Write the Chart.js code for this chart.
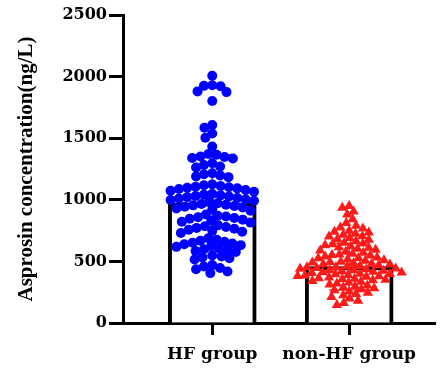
<!DOCTYPE html>
<html>
<head>
<meta charset="utf-8">
<script src="https://cdn.jsdelivr.net/npm/chart.js@4.4.1/dist/chart.umd.min.js"></script>
<style>
  body { margin: 0; background: #fff; }
  #wrap { width: 441px; height: 369px; }
</style>
</head>
<body>
<div id="wrap"><canvas id="chart" width="441" height="369"></canvas></div>
<script>
// groups and summary values
const categories = ["HF group", "non-HF group"]
const means = [975, 457]
const sds = [390, 190]

const hfValues = [
    2007, 1930, 1925, 1921, 1880, 1874, 1802,
    1607, 1585, 1538, 1503, 1432,
    1372, 1365, 1352, 1348, 1340, 1335,
    1296, 1283, 1270, 1262,
    1215, 1208, 1198, 1190, 1184,
    1125, 1118, 1112, 1106, 1102, 1098, 1093, 1087, 1080, 1074, 1066,
    1048, 1042, 1036, 1031, 1027, 1022, 1015, 1010, 1004, 998, 992, 985,
    972, 966, 960, 955, 950, 944, 938, 930, 921, 912,
    880, 871, 864, 858, 852, 846, 839, 830, 822, 815,
    794, 786, 779, 772, 765, 757, 748, 740, 731,
    688, 676, 668, 660, 652, 645, 639, 632, 626, 618,
    604, 598, 590, 584, 577,
    548, 540, 532, 525, 515,
    470, 458, 447, 436,
    418, 405
]
const nonHfValues = [
    950, 936, 905, 880, 842, 812, 790, 776, 768,
    748, 741, 735, 724, 716, 705, 702, 690, 681, 676, 664,
    652, 645, 640, 631, 622, 615, 610, 603, 594, 588, 579, 570,
    562, 555, 551, 548, 540, 532, 528, 525, 518, 510, 505,
    498, 495, 492, 486, 480, 477, 474, 468, 462, 458, 455, 452,
    447, 442, 440, 436, 430, 428, 425, 420, 415, 412, 410, 405,
    400, 398, 396, 390, 385, 382, 380, 375, 370, 364, 360, 358,
    352, 346, 340, 334, 328, 320, 312, 305, 298, 290, 282,
    274, 265, 256, 246, 236, 225, 212, 198, 180, 162, 146
]

// simple beeswarm: push each dot sideways until it stops overlapping
const PX_PER_Y = 308 / 2500
const PX_PER_X = 139.5
function swarm(values, minDist) {
    const placed = []
    return values.map((v) => {
        const py = v * PX_PER_Y
        let off = 0
        for (let k = 0; k < 400; k++) {
            const cand = (k % 2 === 0 ? 1 : -1) * Math.ceil(k / 2) * 0.5
            const ok = placed.every((p) => {
                const dx = p.x - cand
                const dy = p.y - py
                return dx * dx + dy * dy >= minDist * minDist
            })
            if (ok) { off = cand; break }
        }
        placed.push({ x: off, y: py })
        return off / PX_PER_X
    })
}
const hfOffsets = swarm(hfValues, 8.2)
const nonHfOffsets = swarm(nonHfValues, 7.1)

const errorBars = {
    id: "errorBars",
    afterDatasetDraw(chart, args) {
        if (args.index !== 0) return
        const { ctx, scales } = chart
        ctx.save()
        ctx.lineWidth = 1.5
        means.forEach((m, i) => {
            const px = scales.x.getPixelForValue(i)
            const top = scales.y.getPixelForValue(m + sds[i])
            const bot = scales.y.getPixelForValue(m - sds[i])
            ctx.strokeStyle = i === 0 ? "#3a3ad8" : "#d83a3a"
            ctx.beginPath()
            ctx.moveTo(px, top); ctx.lineTo(px, bot)
            ctx.moveTo(px - 20, top); ctx.lineTo(px + 20, top)
            ctx.moveTo(px - 20, bot); ctx.lineTo(px + 20, bot)
            ctx.stroke()
        })
        ctx.restore()
    }
}

new Chart(document.getElementById("chart"), {
    type: "bar",
    data: {
        datasets: [
            {
                label: "mean",
                data: means.map((m, i) => ({ x: i, y: m })),
                backgroundColor: "#ffffff",
                borderColor: "#000000",
                borderWidth: 4,
                barThickness: 88,
                order: 3,
            },
            {
                type: "scatter",
                label: categories[0],
                data: hfValues.map((v, i) => ({ x: hfOffsets[i], y: v })),
                backgroundColor: "#0000ff",
                borderWidth: 0,
                pointStyle: "circle",
                pointRadius: 5,
                order: 2,
            },
            {
                type: "scatter",
                label: categories[1],
                data: nonHfValues.map((v, i) => ({ x: 1 + nonHfOffsets[i], y: v })),
                backgroundColor: "#ff1a1a",
                borderWidth: 0,
                pointStyle: "triangle",
                pointRadius: 6,
                order: 1,
            },
        ],
    },
    options: {
        responsive: false,
        animation: false,
        devicePixelRatio: 1,
        layout: { padding: { top: 15, right: 0, left: 0, bottom: 0 } },
        plugins: { legend: { display: false }, tooltip: { enabled: false } },
        scales: {
            x: {
                type: "linear",
                offset: false,
                min: -0.652,
                max: 1.627,
                afterBuildTicks: (scale) => { scale.ticks = [{ value: 0 }, { value: 1 }] },
                afterFit: (scale) => { scale.height = 46 },
                ticks: {
                    callback: (v) => categories[v],
                    color: "#000",
                    font: { family: "DejaVu Serif", weight: "bold", size: 17 },
                    padding: 9,
                    maxRotation: 0,
                    autoSkip: false,
                },
                grid: { offset: false, drawOnChartArea: false, color: "#000", tickLength: 12, tickWidth: 3 },
                border: { color: "#000", width: 3 },
            },
            y: {
                min: 0,
                max: 2500,
                afterFit: (scale) => { scale.width = 123 },
                ticks: {
                    stepSize: 500,
                    callback: (v) => String(v),
                    color: "#000",
                    font: { family: "DejaVu Serif", weight: "bold", size: 16 },
                    padding: 2,
                },
                grid: { drawOnChartArea: false, color: "#000", tickLength: 14, tickWidth: 3 },
                border: { color: "#000", width: 3 },
                title: {
                    display: true,
                    text: "Asprosin concentration(ng/L)",
                    color: "#000",
                    font: { family: "Liberation Serif", weight: "bold", size: 21 },
                    padding: { top: 14, bottom: 0 },
                },
            },
        },
    },
    plugins: [errorBars],
})
</script>
</body>
</html>
